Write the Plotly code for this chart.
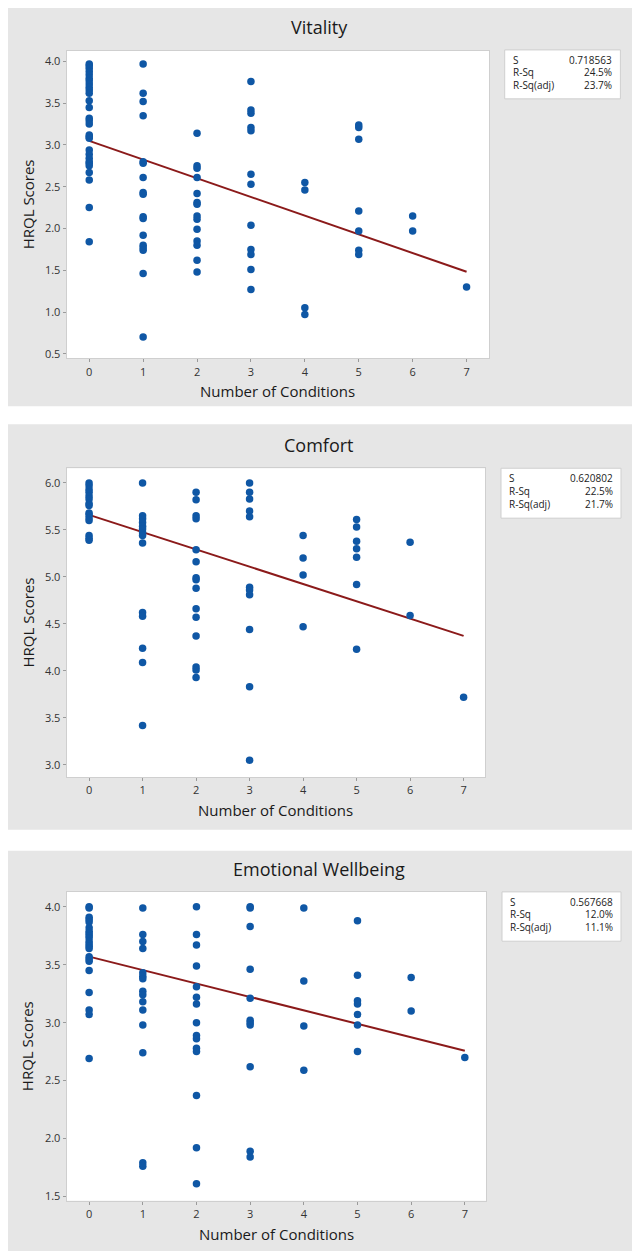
import plotly.graph_objects as go

# page is drawn inside an 8px body margin
OFF = 8
W, H = 632, 1251

# ---------------- data ----------------
conditions = [0, 1, 2, 3, 4, 5, 6, 7]

vitality_scores = [
    [3.97, 3.95, 3.92, 3.88, 3.84, 3.80, 3.77, 3.73, 3.69, 3.66, 3.62, 3.53, 3.45, 3.32, 3.29,
     3.25, 3.12, 3.10, 3.08, 2.94, 2.89, 2.84, 2.80, 2.78, 2.75, 2.67, 2.58, 2.25, 1.84],
    [3.97, 3.62, 3.52, 3.35, 2.80, 2.78, 2.61, 2.43, 2.41, 2.14, 2.12, 1.92, 1.80, 1.77, 1.74, 1.46, 0.70],
    [3.14, 2.75, 2.72, 2.61, 2.42, 2.31, 2.29, 2.15, 2.11, 1.99, 1.85, 1.80, 1.62, 1.48],
    [3.76, 3.42, 3.38, 3.21, 3.17, 2.65, 2.53, 2.04, 1.75, 1.69, 1.51, 1.27],
    [2.55, 2.46, 1.05, 0.97],
    [3.24, 3.21, 3.07, 2.21, 1.97, 1.74, 1.69],
    [2.15, 1.97],
    [1.30],
]
comfort_scores = [
    [6.00, 5.97, 5.93, 5.90, 5.86, 5.83, 5.78, 5.76, 5.68, 5.66, 5.63, 5.60, 5.44, 5.41, 5.39],
    [6.00, 5.65, 5.62, 5.58, 5.54, 5.51, 5.47, 5.44, 5.36, 4.62, 4.58, 4.24, 4.09, 3.42],
    [5.90, 5.82, 5.65, 5.62, 5.29, 5.16, 4.99, 4.97, 4.88, 4.66, 4.57, 4.37, 4.04, 4.01, 3.93],
    [6.00, 5.90, 5.83, 5.70, 5.64, 4.89, 4.86, 4.81, 4.44, 3.83, 3.05],
    [5.44, 5.20, 5.02, 4.47],
    [5.61, 5.53, 5.38, 5.30, 5.21, 4.92, 4.23],
    [5.37, 4.59],
    [3.72],
]
emotional_scores = [
    [4.00, 3.99, 3.91, 3.89, 3.87, 3.82, 3.79, 3.77, 3.75, 3.73, 3.70, 3.68, 3.66, 3.64, 3.57,
     3.55, 3.53, 3.45, 3.26, 3.11, 3.07, 2.69],
    [3.99, 3.76, 3.70, 3.64, 3.43, 3.40, 3.38, 3.27, 3.24, 3.18, 3.11, 2.98, 2.74, 1.79, 1.76],
    [4.00, 3.76, 3.67, 3.49, 3.31, 3.22, 3.16, 3.00, 2.89, 2.86, 2.78, 2.75, 2.37, 1.92, 1.61],
    [4.00, 3.99, 3.83, 3.46, 3.21, 3.02, 3.00, 2.98, 2.62, 1.89, 1.84],
    [3.99, 3.36, 2.97, 2.59],
    [3.88, 3.41, 3.19, 3.16, 3.07, 2.98, 2.75],
    [3.39, 3.10],
    [2.70],
]

# fitted line (intercept, slope)
vitality_fit = [3.05, -0.224]
comfort_fit = [5.66, -0.184]
emotional_fit = [3.57, -0.116]

titles = ["Vitality", "Comfort", "Emotional Wellbeing"]
stat_labels = ["S", "R-Sq", "R-Sq(adj)"]
vitality_stats = ["0.718563", "24.5%", "23.7%"]
comfort_stats = ["0.620802", "22.5%", "21.7%"]
emotional_stats = ["0.567668", "12.0%", "11.1%"]

vitality_ticks = [0.5, 1.0, 1.5, 2.0, 2.5, 3.0, 3.5, 4.0]
comfort_ticks = [3.0, 3.5, 4.0, 4.5, 5.0, 5.5, 6.0]
emotional_ticks = [1.5, 2.0, 2.5, 3.0, 3.5, 4.0]

x_title = "Number of Conditions"
y_title = "HRQL Scores"

# ---------------- layout geometry (screen pixels) ----------------
panels = [
    dict(scores=vitality_scores, fit=vitality_fit, stats=vitality_stats, ticks=vitality_ticks,
         yrange=[0.444, 4.13], xrange=[-0.42, 7.42],
         gray=(7, 7, 634, 407), plot=(66.6, 50.7, 489.2, 359.0),
         box=(504.7, 50.0, 620.4, 99.0),
         title_y=26.7, xt_y=392.0),
    dict(scores=comfort_scores, fit=comfort_fit, stats=comfort_stats, ticks=comfort_ticks,
         yrange=[2.87, 6.156], xrange=[-0.42, 7.40],
         gray=(7, 425, 634, 831), plot=(66.6, 469.0, 485.0, 778.3),
         box=(501.0, 469.0, 621.0, 519.0),
         title_y=446.0, xt_y=811.0),
    dict(scores=emotional_scores, fit=emotional_fit, stats=emotional_stats, ticks=emotional_ticks,
         yrange=[1.462, 4.129], xrange=[-0.42, 7.40],
         gray=(7, 852, 634, 1253), plot=(66.6, 893.3, 486.3, 1202.7),
         box=(502.0, 893.3, 621.0, 942.7),
         title_y=870.7, xt_y=1236.0),
]
row_offsets = (9.8, 22.6, 35.4)


def px(x):
    return (x - OFF) / W


def py(y):
    return 1 - (y - OFF) / H


FONT = "Open Sans"
fig = go.Figure()
shapes = []
annotations = []
layout_axes = {}

for i, p in enumerate(panels):
    n = "" if i == 0 else str(i + 1)
    xa, ya = "x" + n, "y" + n
    xs, ys = [], []
    for c, vals in zip(conditions, p["scores"]):
        xs += [c] * len(vals)
        ys += vals
    b0, b1 = p["fit"]
    lx = [conditions[0], conditions[-1]]
    ly = [b0 + b1 * v for v in lx]
    fig.add_trace(go.Scatter(x=lx, y=ly, mode="lines", xaxis=xa, yaxis=ya,
                             line=dict(color="#8b1a1a", width=2), showlegend=False))
    fig.add_trace(go.Scatter(x=xs, y=ys, mode="markers", xaxis=xa, yaxis=ya,
                             marker=dict(color="#0f57a5", size=7.5), showlegend=False,
                             cliponaxis=False))

    gx0, gy0, gx1, gy1 = p["gray"]
    shapes.append(dict(type="rect", xref="paper", yref="paper", layer="below",
                       x0=px(gx0), x1=px(gx1), y0=py(gy1), y1=py(gy0),
                       fillcolor="#e6e6e6", line=dict(width=0)))
    x0, y0, x1, y1 = p["plot"]
    shapes.append(dict(type="rect", xref="paper", yref="paper", layer="below",
                       x0=px(x0), x1=px(x1), y0=py(y1), y1=py(y0),
                       fillcolor="white", line=dict(width=0)))
    bx0, by0, bx1, by1 = p["box"]
    shapes.append(dict(type="rect", xref="paper", yref="paper",
                       x0=px(bx0), x1=px(bx1), y0=py(by1), y1=py(by0),
                       fillcolor="white", line=dict(color="#cfcfcf", width=1)))
    for lab, val, ro in zip(stat_labels, p["stats"], row_offsets):
        ry = by0 + ro
        annotations.append(dict(text=lab, xref="paper", yref="paper", x=px(bx0 + 6), y=py(ry),
                                xanchor="left", yanchor="middle", showarrow=False,
                                font=dict(family=FONT, size=10, color="#222")))
        annotations.append(dict(text=val, xref="paper", yref="paper", x=px(bx1 - 6.5), y=py(ry),
                                xanchor="right", yanchor="middle", showarrow=False,
                                font=dict(family=FONT, size=10, color="#222")))
    annotations.append(dict(text=titles[i], xref="paper", yref="paper", x=px(319), y=py(p["title_y"]),
                            xanchor="center", yanchor="middle", showarrow=False,
                            font=dict(family=FONT, size=18, color="#1a1a1a")))
    annotations.append(dict(text=x_title, xref="paper", yref="paper", x=px((x0 + x1) / 2),
                            y=py(p["xt_y"]), xanchor="center", yanchor="middle", showarrow=False,
                            font=dict(family=FONT, size=15, color="#1a1a1a")))
    annotations.append(dict(text=y_title, xref="paper", yref="paper", x=px(27.8),
                            y=py((y0 + y1) / 2), xanchor="center", yanchor="middle",
                            showarrow=False, textangle=-90,
                            font=dict(family=FONT, size=15, color="#1a1a1a")))

    axis_common = dict(showgrid=False, zeroline=False, showline=True, mirror=True,
                       linecolor="#cfcfcf", linewidth=1, ticks="outside", ticklen=3,
                       tickcolor="#9a9a9a", tickfont=dict(family=FONT, size=11, color="#333"))
    layout_axes["xaxis" + n] = dict(axis_common, domain=[px(x0), px(x1)], range=p["xrange"],
                                    anchor=ya, tickvals=conditions, ticktext=[str(c) for c in conditions])
    layout_axes["yaxis" + n] = dict(axis_common, domain=[py(y1), py(y0)], range=p["yrange"],
                                    anchor=xa, tickvals=p["ticks"],
                                    ticktext=[f"{t:.1f}" for t in p["ticks"]])

fig.update_layout(width=W, height=H, margin=dict(l=0, r=0, t=0, b=0),
                  paper_bgcolor="white", plot_bgcolor="rgba(0,0,0,0)",
                  shapes=shapes, annotations=annotations, **layout_axes)

fig.write_html("out.html")
